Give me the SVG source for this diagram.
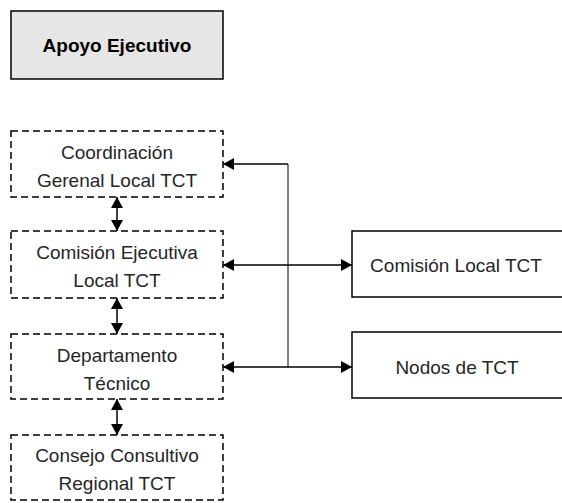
<svg xmlns="http://www.w3.org/2000/svg" width="562" height="503" viewBox="0 0 562 503">
<defs>
<marker id="ah" viewBox="0 0 11 12" refX="11" refY="6" markerWidth="11" markerHeight="12" markerUnits="userSpaceOnUse" orient="auto-start-reverse">
<path d="M0,0 L11,6 L0,12 z" fill="#000"/>
</marker>
<style>
.t{font-family:"Liberation Sans",Arial,sans-serif;font-size:19px;fill:#262626;text-anchor:middle}
.b{font-weight:bold;fill:#000}
.d{fill:#fff;stroke:#000;stroke-width:1.5;stroke-dasharray:7 4}
.s{fill:#fff;stroke:#000;stroke-width:1.5}
.c{fill:none;stroke:#000;stroke-width:1.5}
</style>
</defs>
<rect width="562" height="503" fill="#fff"/>
<g id="apoyo">
<rect x="11" y="11" width="212" height="68" fill="#e7e6e6" stroke="#000" stroke-width="1.5"/>
<text class="t b" x="117" y="52">Apoyo Ejecutivo</text>
</g>
<g id="coordinacion">
<rect class="d" x="11" y="131" width="212" height="66"/>
<text class="t" x="117" y="159">Coordinación</text>
<text class="t" x="117" y="187">Gerenal Local TCT</text>
</g>
<g id="comision-ejecutiva">
<rect class="d" x="11" y="231" width="212" height="67"/>
<text class="t" x="117" y="259">Comisión Ejecutiva</text>
<text class="t" x="117" y="287">Local TCT</text>
</g>
<g id="departamento">
<rect class="d" x="11" y="334" width="212" height="65"/>
<text class="t" x="117" y="362">Departamento</text>
<text class="t" x="117" y="390">Técnico</text>
</g>
<g id="consejo">
<rect class="d" x="11" y="435" width="212" height="65"/>
<text class="t" x="117" y="462">Consejo Consultivo</text>
<text class="t" x="117" y="490">Regional TCT</text>
</g>
<g id="comision-local">
<rect class="s" x="352" y="231" width="215" height="66"/>
<text class="t" x="456" y="272">Comisión Local TCT</text>
</g>
<g id="nodos">
<rect class="s" x="352" y="332" width="215" height="66"/>
<text class="t" x="457" y="374">Nodos de TCT</text>
</g>
<g id="connectors">
<line class="c" x1="117" y1="197" x2="117" y2="231" stroke-width="2" marker-start="url(#ah)" marker-end="url(#ah)"/>
<line class="c" x1="117" y1="298" x2="117" y2="334" stroke-width="2" marker-start="url(#ah)" marker-end="url(#ah)"/>
<line class="c" x1="117" y1="399" x2="117" y2="435" stroke-width="2" marker-start="url(#ah)" marker-end="url(#ah)"/>
<line x1="288" y1="164" x2="288" y2="367" stroke="#000" stroke-width="1"/>
<line class="c" x1="288" y1="164" x2="223" y2="164" marker-end="url(#ah)"/>
<line class="c" x1="223" y1="265" x2="352" y2="265" stroke-width="2" marker-start="url(#ah)" marker-end="url(#ah)"/>
<line class="c" x1="223" y1="367" x2="352" y2="367" marker-start="url(#ah)" marker-end="url(#ah)"/>
</g>
</svg>
